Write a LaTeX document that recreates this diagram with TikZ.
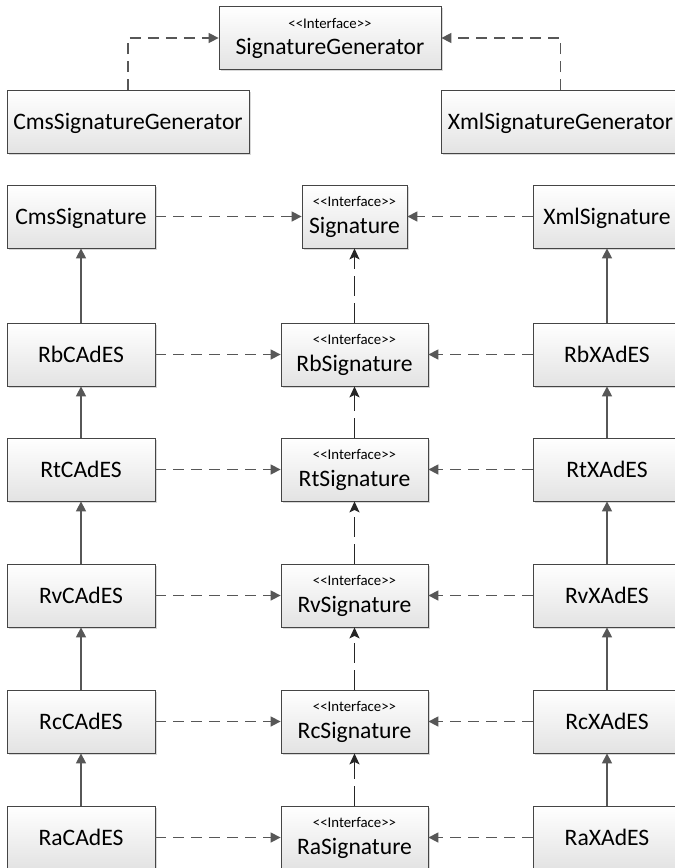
\documentclass[tikz,border=0pt]{standalone}
\usepackage{fontspec}
\setmainfont{Carlito}
\usetikzlibrary{arrows.meta,shadows}
\definecolor{lc}{HTML}{575757}
\definecolor{bc}{HTML}{454545}
\tikzset{
  basebox/.style={draw=bc, line width=0.8pt, top color=white, bottom color=black!11,
    drop shadow={shadow xshift=1.5pt, shadow yshift=-1.5pt, fill=black!30, opacity=0.5},
    inner sep=0pt, minimum height=63pt},
  cbox/.style={basebox, text height=15pt, text depth=0pt, font=\fontsize{23.6}{26}\selectfont},
  ibox/.style={basebox},
  smalltxt/.style={inner sep=0pt, font=\fontsize{14.8}{16}\selectfont},
  bigtxt/.style={inner sep=0pt, font=\fontsize{23.6}{26}\selectfont},
  dep/.style={draw=lc, line width=1.5pt, dash pattern=on 11pt off 7pt, -{Triangle[length=10pt,width=10pt]}},
  gen/.style={draw=lc, line width=1.5pt, -{Triangle[length=10pt,width=10pt]}},
  idep/.style={draw=black!85, line width=1.5pt, dash pattern=on 20pt off 7pt, -{Stealth[length=11pt,width=10pt,inset=2.5pt]}}
}
\newcommand\ifacebox[5]{%
  \node[ibox, minimum width=#4] (#1) at (#2,#3) {};
  \node[smalltxt, anchor=base] (#1s) at (#2,#3-10) {<{}<Interface>{}>};
  \node[bigtxt, anchor=base] (#1t) at (#2,#3+16.5) {#5};}
\begin{document}
\begin{tikzpicture}[x=1pt,y=-1pt]
\useasboundingbox (0,0) rectangle (675,868);
\clip (0,0) rectangle (675,868);
\fill[white] (0,0) rectangle (675,868);
% top
\ifacebox{sg}{330}{38}{222pt}{SignatureGenerator}
\node[cbox, minimum width=242pt] (csg) at (128,122) {CmsSignatureGenerator};
\node[cbox, minimum width=239pt] (xsg) at (560.5,122) {XmlSignatureGenerator};
% row 2
\node[cbox, minimum width=148pt] (cs) at (81,216.5) {CmsSignature};
\ifacebox{sig}{354.5}{216.5}{105pt}{Signature}
\node[cbox, minimum width=148pt] (xs) at (607,216.5) {XmlSignature};
% rows
\node[cbox, minimum width=148pt] (rbc) at (81,354.5) {RbCAdES};
\ifacebox{rbs}{354.5}{354.5}{147pt}{RbSignature}
\node[cbox, minimum width=148pt] (rbx) at (607,354.5) {RbXAdES};
\node[cbox, minimum width=148pt] (rtc) at (81,469.5) {RtCAdES};
\ifacebox{rts}{354.5}{469.5}{147pt}{RtSignature}
\node[cbox, minimum width=148pt] (rtx) at (607,469.5) {RtXAdES};
\node[cbox, minimum width=148pt] (rvc) at (81,595.5) {RvCAdES};
\ifacebox{rvs}{354.5}{595.5}{147pt}{RvSignature}
\node[cbox, minimum width=148pt] (rvx) at (607,595.5) {RvXAdES};
\node[cbox, minimum width=148pt] (rcc) at (81,721.5) {RcCAdES};
\ifacebox{rcs}{354.5}{721.5}{147pt}{RcSignature}
\node[cbox, minimum width=148pt] (rcx) at (607,721.5) {RcXAdES};
\node[cbox, minimum width=148pt] (rac) at (81,837.5) {RaCAdES};
\ifacebox{ras}{354.5}{837.5}{147pt}{RaSignature}
\node[cbox, minimum width=148pt] (rax) at (607,837.5) {RaXAdES};
% connectors top
\draw[dep] (csg.north) |- (sg.west);
\draw[dep] (xsg.north) |- (sg.east);
\draw[dep] (cs.east) -- (sig.west);
\draw[dep] (xs.west) -- (sig.east);
% horizontal deps
\foreach \r in {rb,rt,rv,rc,ra}{
  \draw[dep] (\r c.east) -- (\r s.west);
  \draw[dep] (\r x.west) -- (\r s.east);
}
% vertical generalisations
\draw[gen] (rbc.north) -- (cs.south);
\draw[gen] (rtc.north) -- (rbc.south);
\draw[gen] (rvc.north) -- (rtc.south);
\draw[gen] (rcc.north) -- (rvc.south);
\draw[gen] (rac.north) -- (rcc.south);
\draw[gen] (rbx.north) -- (xs.south);
\draw[gen] (rtx.north) -- (rbx.south);
\draw[gen] (rvx.north) -- (rtx.south);
\draw[gen] (rcx.north) -- (rvx.south);
\draw[gen] (rax.north) -- (rcx.south);
% middle interface inheritance
\draw[idep] (rbs.north) -- (sig.south);
\draw[idep] (rts.north) -- (rbs.south);
\draw[idep] (rvs.north) -- (rts.south);
\draw[idep] (rcs.north) -- (rvs.south);
\draw[idep] (ras.north) -- (rcs.south);
\end{tikzpicture}
\end{document}
